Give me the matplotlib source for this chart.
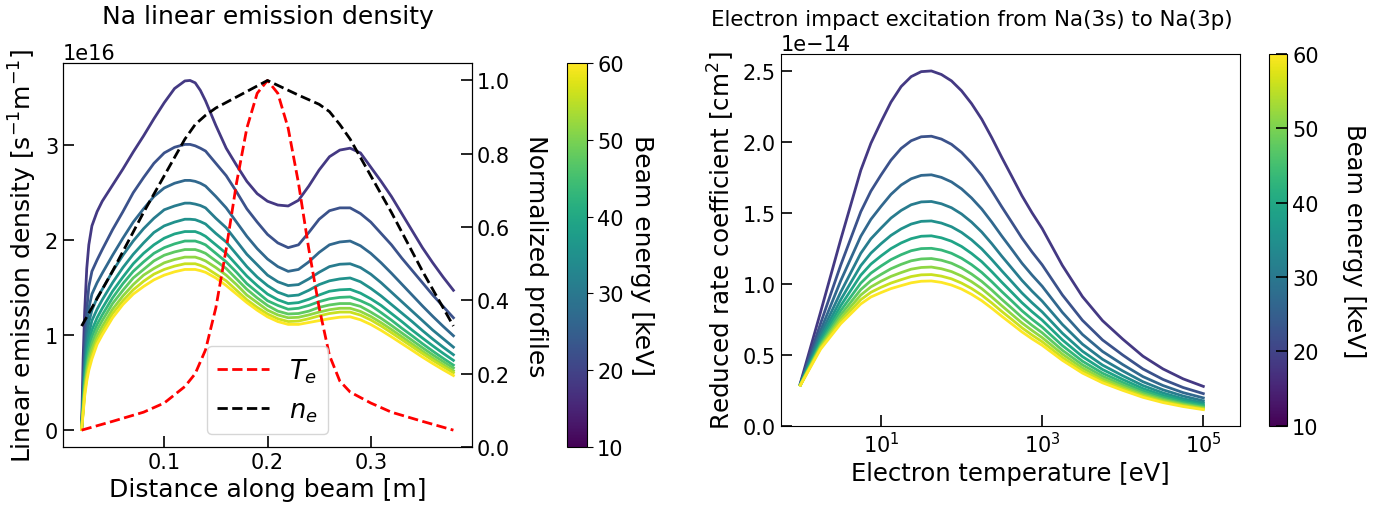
import numpy as np
import matplotlib
matplotlib.use('Agg')
import matplotlib.pyplot as plt
from matplotlib import cm, colors
from matplotlib.ticker import MultipleLocator

# beam energies [keV]
energies = [10, 15, 20, 25, 30, 35, 40, 45, 50, 55, 60]

# --- left panel: linear emission density (units of 1e16 s^-1 m^-1) ---
x_beam = [0.02, 0.0215, 0.023, 0.025, 0.027, 0.03, 0.035, 0.04, 0.05, 0.06, 0.07, 0.08, 0.09,
          0.10, 0.11, 0.12, 0.125, 0.13, 0.135,
          0.14, 0.15, 0.16, 0.17, 0.18, 0.19, 0.20, 0.21, 0.22,
          0.23, 0.24, 0.25, 0.26, 0.27, 0.28,
          0.29, 0.30, 0.31, 0.32, 0.33, 0.34, 0.35, 0.36, 0.37, 0.38]

em_10 = [0, 0.75, 1.25, 1.70, 1.95, 2.15, 2.30, 2.41, 2.58, 2.75, 2.93, 3.10, 3.28,
         3.45, 3.60, 3.68, 3.685, 3.66, 3.58,
         3.47, 3.21, 2.97, 2.79, 2.62, 2.49, 2.41, 2.37, 2.36,
         2.42, 2.57, 2.74, 2.88, 2.95, 2.97,
         2.92, 2.77, 2.62, 2.46, 2.28, 2.10, 1.92, 1.76, 1.61, 1.47]
em_15 = [0, 0.45, 0.90, 1.26, 1.51, 1.67, 1.79, 1.90, 2.11, 2.30, 2.50, 2.66, 2.81,
         2.92, 2.98, 3.01, 3.01, 2.995, 2.97,
         2.94, 2.81, 2.68, 2.51, 2.33, 2.19, 2.06, 1.97, 1.92,
         1.95, 2.08, 2.22, 2.31, 2.34, 2.34,
         2.28, 2.19, 2.07, 1.95, 1.81, 1.68, 1.55, 1.42, 1.30, 1.18]
em_20 = [0, 0.38, 0.76, 1.07, 1.28, 1.43, 1.55, 1.65, 1.84, 2.02, 2.19, 2.33, 2.46,
         2.55, 2.60, 2.63, 2.63, 2.62, 2.60,
         2.57, 2.46, 2.34, 2.19, 2.04, 1.91, 1.80, 1.72, 1.67,
         1.69, 1.77, 1.87, 1.95, 1.98, 1.99,
         1.94, 1.86, 1.76, 1.65, 1.535, 1.42, 1.305, 1.195, 1.09, 0.99]
em_25 = [0, 0.33, 0.67, 0.94, 1.13, 1.26, 1.39, 1.48, 1.67, 1.84, 1.99, 2.12, 2.23,
         2.32, 2.36, 2.39, 2.39, 2.38, 2.365,
         2.34, 2.23, 2.13, 1.99, 1.85, 1.74, 1.63, 1.56, 1.52,
         1.53, 1.59, 1.66, 1.72, 1.745, 1.75,
         1.71, 1.64, 1.55, 1.45, 1.35, 1.25, 1.15, 1.05, 0.96, 0.87]
em_30 = [0, 0.30, 0.60, 0.84, 1.01, 1.15, 1.27, 1.37, 1.55, 1.71, 1.85, 1.97, 2.08,
         2.15, 2.19, 2.22, 2.22, 2.215, 2.195,
         2.17, 2.07, 1.98, 1.85, 1.72, 1.61, 1.52, 1.45, 1.41,
         1.42, 1.47, 1.53, 1.57, 1.59, 1.60,
         1.56, 1.49, 1.41, 1.32, 1.23, 1.14, 1.045, 0.955, 0.87, 0.79]
em_35 = [0, 0.27, 0.54, 0.77, 0.92, 1.05, 1.18, 1.28, 1.46, 1.61, 1.75, 1.86, 1.95,
         2.02, 2.065, 2.09, 2.09, 2.09, 2.07,
         2.04, 1.95, 1.86, 1.74, 1.62, 1.52, 1.43, 1.37, 1.33,
         1.34, 1.375, 1.42, 1.46, 1.475, 1.48,
         1.44, 1.38, 1.31, 1.225, 1.14, 1.05, 0.966, 0.884, 0.805, 0.73]
em_40 = [0, 0.24, 0.50, 0.70, 0.85, 0.98, 1.11, 1.21, 1.39, 1.54, 1.67, 1.77, 1.86,
         1.92, 1.96, 1.99, 1.99, 1.99, 1.973,
         1.95, 1.86, 1.77, 1.66, 1.54, 1.45, 1.36, 1.31, 1.27,
         1.28, 1.31, 1.35, 1.38, 1.395, 1.40,
         1.36, 1.31, 1.234, 1.155, 1.07, 0.99, 0.907, 0.828, 0.752, 0.68]
em_45 = [0, 0.22, 0.46, 0.65, 0.78, 0.91, 1.05, 1.15, 1.33, 1.47, 1.60, 1.69, 1.78,
         1.84, 1.875, 1.90, 1.90, 1.90, 1.883,
         1.86, 1.78, 1.70, 1.59, 1.48, 1.39, 1.31, 1.25, 1.22,
         1.225, 1.25, 1.29, 1.315, 1.33, 1.33,
         1.30, 1.24, 1.174, 1.099, 1.02, 0.942, 0.864, 0.789, 0.718, 0.65]
em_50 = [0, 0.20, 0.42, 0.60, 0.73, 0.85, 0.99, 1.09, 1.27, 1.41, 1.53, 1.63, 1.70,
         1.76, 1.795, 1.82, 1.82, 1.82, 1.803,
         1.78, 1.71, 1.63, 1.53, 1.42, 1.34, 1.26, 1.21, 1.18,
         1.185, 1.21, 1.24, 1.265, 1.28, 1.28,
         1.247, 1.194, 1.128, 1.056, 0.98, 0.904, 0.828, 0.755, 0.686, 0.62]
em_55 = [0, 0.19, 0.385, 0.55, 0.67, 0.79, 0.94, 1.04, 1.225, 1.36, 1.475, 1.565, 1.64,
         1.69, 1.725, 1.75, 1.75, 1.75, 1.733,
         1.71, 1.64, 1.57, 1.47, 1.37, 1.29, 1.22, 1.17, 1.14,
         1.145, 1.17, 1.20, 1.225, 1.24, 1.24,
         1.208, 1.157, 1.093, 1.022, 0.949, 0.875, 0.802, 0.731, 0.664, 0.60]
em_60 = [0, 0.17, 0.355, 0.51, 0.625, 0.745, 0.90, 1.00, 1.18, 1.32, 1.43, 1.51, 1.58,
         1.63, 1.665, 1.69, 1.69, 1.69, 1.677,
         1.66, 1.60, 1.52, 1.43, 1.34, 1.26, 1.19, 1.14, 1.11,
         1.11, 1.13, 1.15, 1.17, 1.186, 1.19,
         1.159, 1.109, 1.047, 0.979, 0.908, 0.837, 0.765, 0.697, 0.632, 0.57]
emission = [em_10, em_15, em_20, em_25, em_30, em_35, em_40, em_45, em_50, em_55, em_60]

# normalized plasma profiles
x_te = [0.02, 0.05, 0.08, 0.10, 0.12, 0.13, 0.14, 0.15, 0.16, 0.17, 0.18, 0.19, 0.20,
        0.21, 0.22, 0.23, 0.24, 0.25, 0.26, 0.27, 0.28, 0.30, 0.32, 0.35, 0.38]
te_norm = [0.046, 0.07, 0.095, 0.12, 0.165, 0.20, 0.265, 0.38, 0.54, 0.72, 0.87, 0.965, 1.0,
           0.965, 0.87, 0.72, 0.54, 0.38, 0.25, 0.18, 0.15, 0.12, 0.095, 0.07, 0.046]
x_ne = [0.02, 0.05, 0.08, 0.11, 0.12, 0.13, 0.14, 0.15, 0.17, 0.20,
        0.23, 0.25, 0.26, 0.27, 0.28, 0.29, 0.32, 0.35, 0.38]
ne_norm = [0.33, 0.48, 0.64, 0.79, 0.84, 0.88, 0.905, 0.925, 0.955, 1.0,
           0.96, 0.935, 0.915, 0.88, 0.84, 0.79, 0.64, 0.48, 0.33]

# --- right panel: reduced rate coefficient (units of 1e-14 cm^2) ---
te_ev = [1, 1.78, 3.16, 5.62, 7.50, 10, 13.3, 17.8, 23.7, 31.6, 42.2, 56.2, 75.0, 100,
         133, 178, 237, 316, 422, 562, 750, 1000,
         1780, 3160, 5620, 1e4, 1.78e4, 3.16e4, 5.62e4, 1e5]
rate_10 = [0.30, 0.80, 1.31, 1.80, 1.99, 2.14, 2.28, 2.39, 2.46, 2.495, 2.50, 2.475, 2.43, 2.36,
           2.27, 2.16, 2.03, 1.89, 1.755, 1.62, 1.50, 1.39,
           1.13, 0.91, 0.74, 0.61, 0.49, 0.40, 0.33, 0.277]
rate_15 = [0.296, 0.72, 1.13, 1.508, 1.653, 1.766, 1.871, 1.954, 2.008, 2.036, 2.040, 2.020, 1.983, 1.926,
           1.852, 1.763, 1.656, 1.542, 1.432, 1.322, 1.224, 1.134,
           0.922, 0.743, 0.604, 0.498, 0.400, 0.326, 0.269, 0.226]
rate_20 = [0.293, 0.67, 1.02, 1.335, 1.454, 1.545, 1.630, 1.696, 1.740, 1.764, 1.768, 1.750, 1.718, 1.669,
           1.605, 1.527, 1.435, 1.336, 1.241, 1.145, 1.061, 0.983,
           0.799, 0.643, 0.523, 0.431, 0.346, 0.283, 0.233, 0.196]
rate_25 = [0.291, 0.64, 0.94, 1.215, 1.317, 1.392, 1.463, 1.517, 1.557, 1.577, 1.580, 1.564, 1.536, 1.492,
           1.435, 1.365, 1.283, 1.194, 1.109, 1.024, 0.948, 0.878,
           0.714, 0.575, 0.468, 0.386, 0.310, 0.253, 0.209, 0.175]
rate_30 = [0.289, 0.614, 0.887, 1.128, 1.216, 1.282, 1.341, 1.387, 1.421, 1.440, 1.443, 1.428, 1.402, 1.362,
           1.310, 1.246, 1.171, 1.091, 1.013, 0.935, 0.866, 0.802,
           0.652, 0.525, 0.427, 0.352, 0.283, 0.231, 0.190, 0.160]
rate_35 = [0.289, 0.595, 0.845, 1.061, 1.139, 1.196, 1.248, 1.288, 1.318, 1.335, 1.338, 1.324, 1.300, 1.263,
           1.214, 1.156, 1.086, 1.011, 0.939, 0.867, 0.803, 0.744,
           0.605, 0.487, 0.396, 0.326, 0.262, 0.214, 0.177, 0.148]
rate_40 = [0.288, 0.58, 0.81, 1.005, 1.075, 1.125, 1.17, 1.205, 1.233, 1.248, 1.25, 1.238, 1.215, 1.18,
           1.135, 1.08, 1.015, 0.945, 0.878, 0.81, 0.75, 0.695,
           0.565, 0.455, 0.37, 0.305, 0.245, 0.20, 0.165, 0.139]
rate_45 = [0.286, 0.567, 0.781, 0.959, 1.022, 1.066, 1.106, 1.137, 1.162, 1.175, 1.178, 1.166, 1.145, 1.112,
           1.069, 1.017, 0.956, 0.890, 0.827, 0.763, 0.707, 0.655,
           0.532, 0.429, 0.349, 0.287, 0.231, 0.188, 0.155, 0.130]
rate_50 = [0.286, 0.557, 0.757, 0.921, 0.978, 1.018, 1.052, 1.079, 1.103, 1.115, 1.118, 1.106, 1.086, 1.055,
           1.015, 0.966, 0.907, 0.845, 0.784, 0.724, 0.671, 0.621,
           0.505, 0.407, 0.331, 0.273, 0.219, 0.179, 0.148, 0.124]
rate_55 = [0.286, 0.548, 0.736, 0.888, 0.940, 0.975, 1.005, 1.029, 1.051, 1.063, 1.065, 1.054, 1.035, 1.005,
           0.967, 0.920, 0.865, 0.805, 0.748, 0.690, 0.639, 0.592,
           0.481, 0.388, 0.315, 0.260, 0.209, 0.170, 0.141, 0.118]
rate_60 = [0.285, 0.539, 0.718, 0.858, 0.907, 0.938, 0.966, 0.987, 1.007, 1.018, 1.020, 1.010, 0.991, 0.963,
           0.926, 0.881, 0.828, 0.771, 0.716, 0.661, 0.612, 0.567,
           0.461, 0.371, 0.302, 0.249, 0.200, 0.163, 0.135, 0.113]
rates = [rate_10, rate_15, rate_20, rate_25, rate_30, rate_35, rate_40, rate_45, rate_50, rate_55, rate_60]

W, H = 1375, 506
fig = plt.figure(figsize=(W / 100, H / 100), dpi=100)
ax1 = fig.add_axes([63 / W, 58 / H, 409 / W, 384 / H])
cax1 = fig.add_axes([566.7 / W, 58 / H, 20 / W, 384 / H])
ax3 = fig.add_axes([780.7 / W, 79.3 / H, 459.3 / W, 371.7 / H])
cax3 = fig.add_axes([1269.3 / W, 79.3 / H, 18 / W, 371.7 / H])

cmap = plt.get_cmap('viridis')
norm = colors.Normalize(vmin=10, vmax=60)
tick_kw = dict(direction='in', length=8, width=1.2, labelsize=15)

# left panel
for E, y in zip(energies, emission):
    ax1.plot(x_beam, np.array(y) * 1e16, color=cmap(E / max(energies)), lw=2)
ax1.set_xticks([0.1, 0.2, 0.3])
ax1.yaxis.set_major_locator(MultipleLocator(1e16))
ax1.tick_params(**tick_kw)
ax1.set_xlabel('Distance along beam [m]', fontsize=18)
ax1.set_ylabel(r'Linear emission density [s$^{-1}$m$^{-1}$]', fontsize=18)
ax1.set_title('Na linear emission density', fontsize=18, pad=14)
ax1.yaxis.get_offset_text().set_fontsize(15)

ax2 = ax1.twinx()
ax2.plot(x_te, te_norm, 'r--', lw=2, label='$T_e$')
ax2.plot(x_ne, ne_norm, 'k--', lw=2, label='$n_e$')
ax2.set_ylim(bottom=0)
ax2.tick_params(**tick_kw)
ax2.set_ylabel('Normalized profiles', rotation=270, labelpad=27, fontsize=18)
ax2.legend(loc='lower center', fontsize=18.5)

sm = cm.ScalarMappable(norm=norm, cmap=cmap)
cb1 = fig.colorbar(sm, cax=cax1)
cb1.ax.tick_params(labelsize=15, length=4)
cb1.set_label('Beam energy [keV]', rotation=270, labelpad=22, fontsize=18)

# right panel
for E, r in zip(energies, rates):
    ax3.plot(te_ev, np.array(r) * 1e-14, color=cmap(E / max(energies)), lw=2)
ax3.set_xscale('log')
ax3.set_xlim(10 ** -0.244, 10 ** 5.455)
ax3.set_xticks([1e1, 1e3, 1e5])
ax3.set_ylim(bottom=0)
ax3.minorticks_off()
ax3.tick_params(**tick_kw)
ax3.set_xlabel('Electron temperature [eV]', fontsize=17.5)
ax3.set_ylabel(r'Reduced rate coefficient [cm$^2$]', fontsize=17.7)
ax3.set_title('Electron impact excitation from Na(3s) to Na(3p)', fontsize=15.4, x=0.4165)
ax3.yaxis.get_offset_text().set_fontsize(15)

cb3 = fig.colorbar(sm, cax=cax3)
cb3.ax.tick_params(labelsize=15, direction='in', length=8, width=1.2)
cb3.set_label('Beam energy [keV]', rotation=270, labelpad=34, fontsize=17.5)

fig.savefig('out.png', dpi=100)
